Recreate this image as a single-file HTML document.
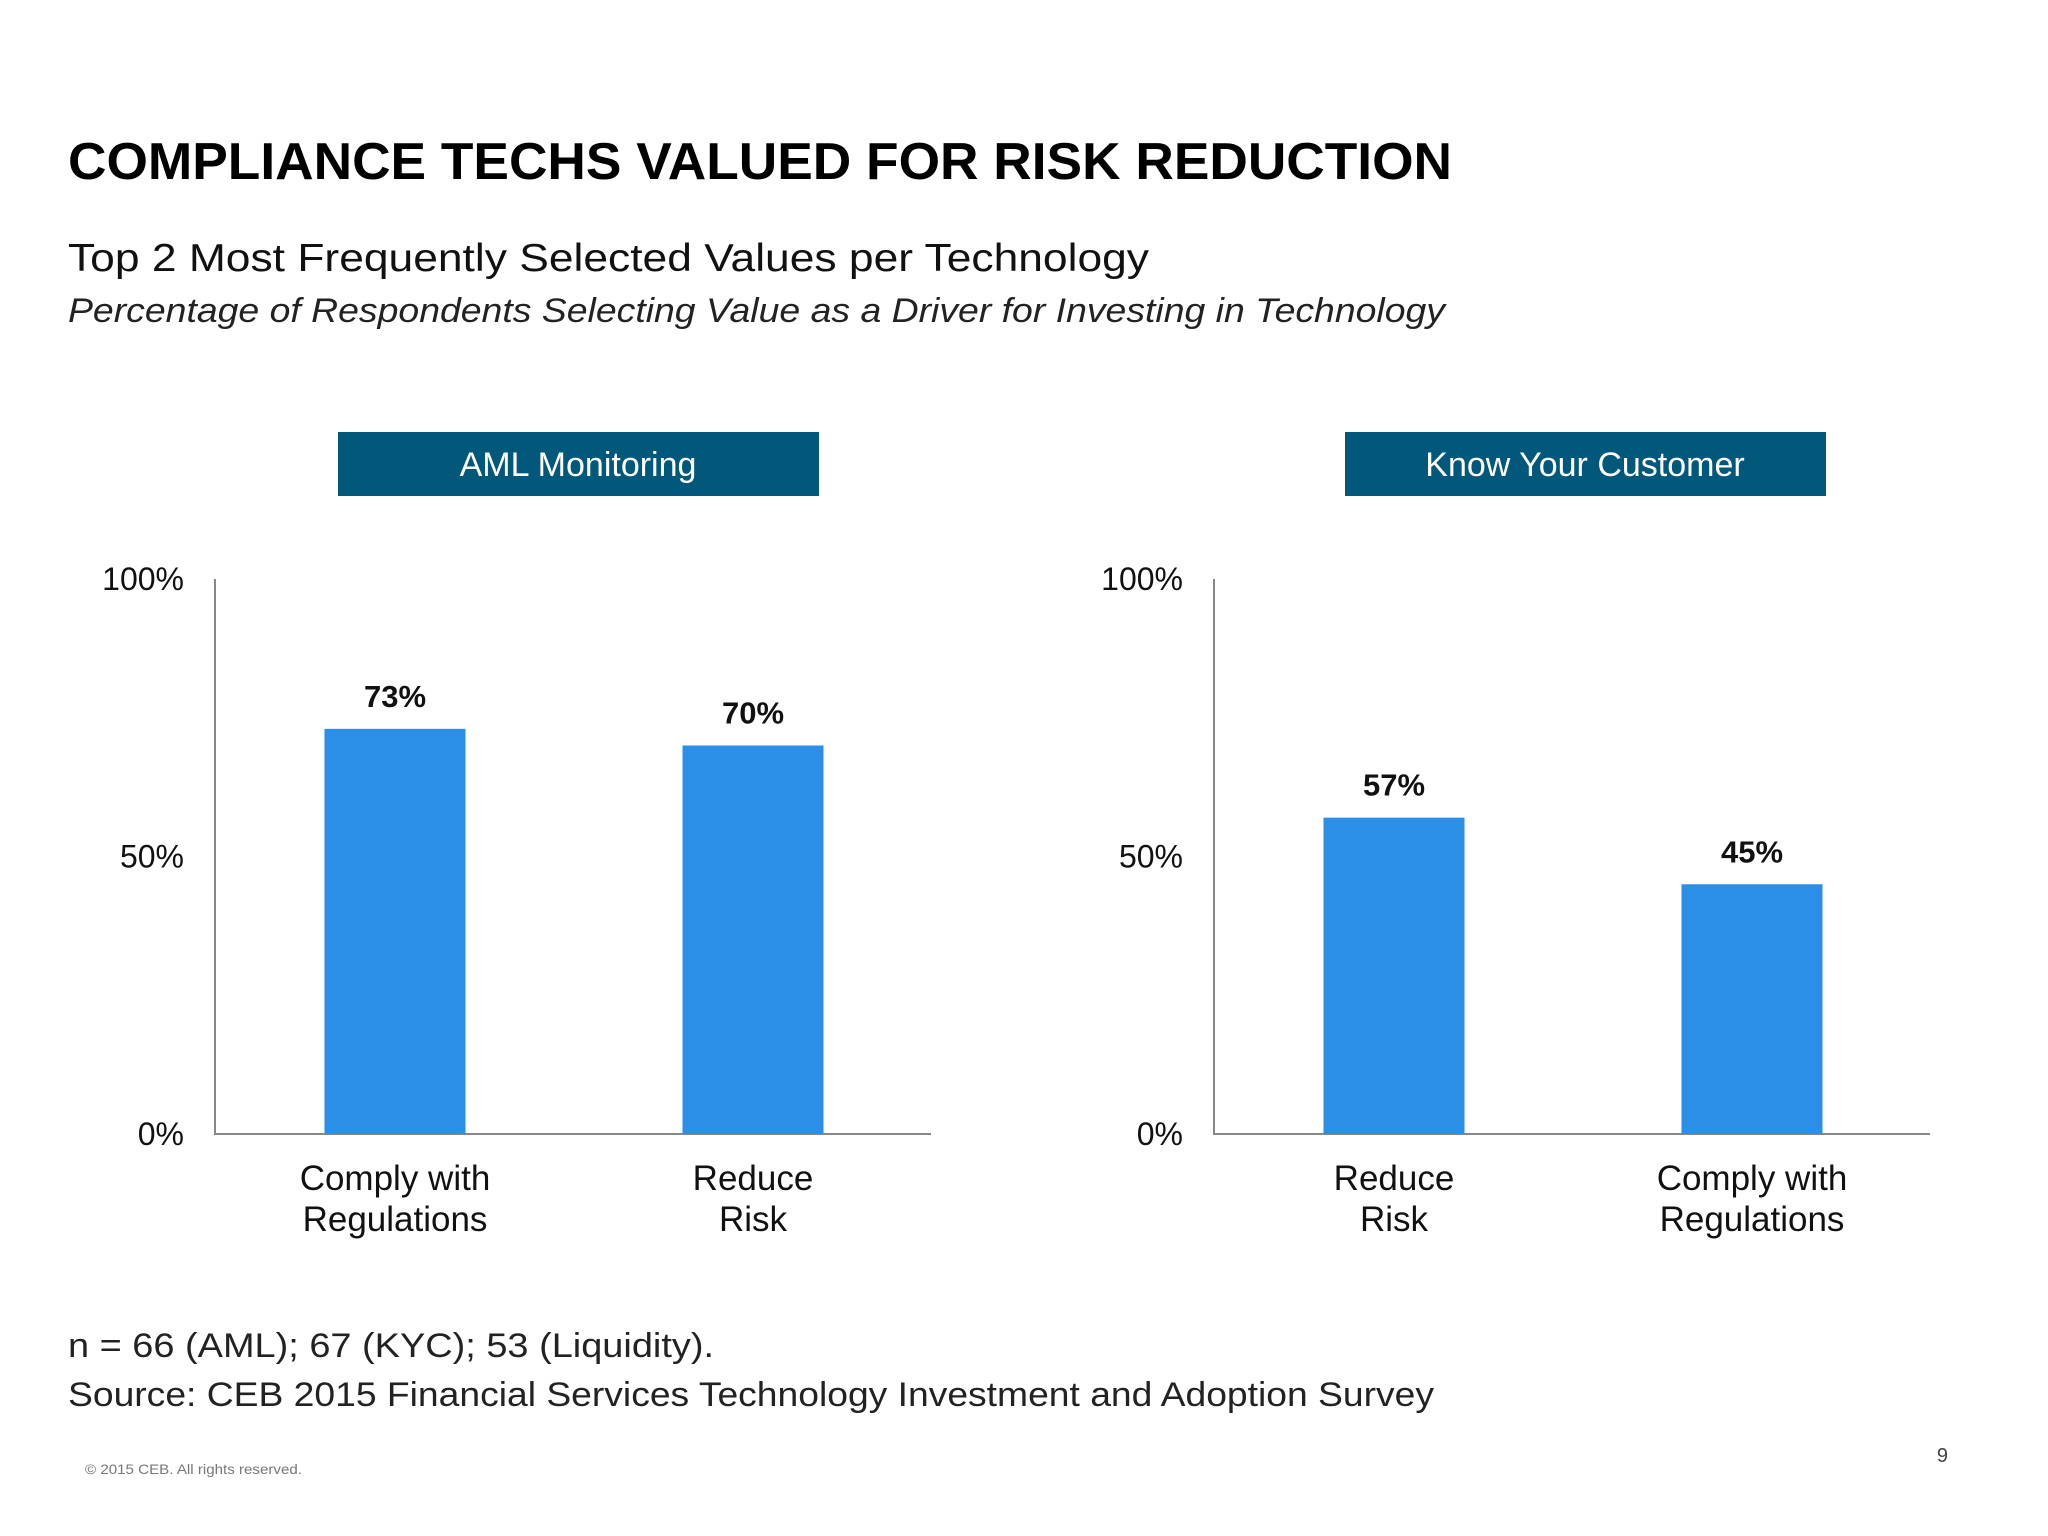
<!DOCTYPE html>
<html><head><meta charset="utf-8"><style>
html,body{margin:0;padding:0;background:#fff}
svg{display:block;font-family:"Liberation Sans",sans-serif}
</style></head><body>
<svg id="chart" width="2048" height="1536" viewBox="0 0 2048 1536">
<rect width="2048" height="1536" fill="#fff"/>
<text x="68" y="179" font-size="52" font-weight="bold" fill="#000" textLength="1384" lengthAdjust="spacingAndGlyphs">COMPLIANCE TECHS VALUED FOR RISK REDUCTION</text>
<text x="68" y="271" font-size="39" fill="#111" textLength="1081" lengthAdjust="spacingAndGlyphs">Top 2 Most Frequently Selected Values per Technology</text>
<text x="68" y="322" font-size="34" font-style="italic" fill="#222" textLength="1377" lengthAdjust="spacingAndGlyphs">Percentage of Respondents Selecting Value as a Driver for Investing in Technology</text>
<g id="panels"></g>
<text x="68" y="1357" font-size="34" fill="#222" textLength="646" lengthAdjust="spacingAndGlyphs">n = 66 (AML); 67 (KYC); 53 (Liquidity).</text>
<text x="68" y="1406" font-size="34" fill="#222" textLength="1366" lengthAdjust="spacingAndGlyphs">Source: CEB 2015 Financial Services Technology Investment and Adoption Survey</text>
<text x="85" y="1474" font-size="14" fill="#777" textLength="217" lengthAdjust="spacingAndGlyphs">© 2015 CEB. All rights reserved.</text>
<text x="1948" y="1462" font-size="20" fill="#444" text-anchor="end">9</text>
</svg>
<script>
const panelTitles = ["AML Monitoring", "Know Your Customer"];
const amlCategories = [["Comply with","Regulations"],["Reduce","Risk"]];
const amlValues = [73, 70];
const kycCategories = [["Reduce","Risk"],["Comply with","Regulations"]];
const kycValues = [57, 45];
const yTicks = [0, 50, 100];
const yTickLabels = ["0%", "50%", "100%"];

const NS = "http://www.w3.org/2000/svg";
const g = document.getElementById("panels");
function mk(tag, attrs, parent){const e=document.createElementNS(NS,tag);for(const k in attrs)e.setAttribute(k,attrs[k]);(parent||g).appendChild(e);return e;}
const y0 = 1134, y100 = 579;
function yScale(v){return y0 - (y0 - y100) * v / 100;}

function panel(ox, hx, title, cats, vals, key){
  const grp = mk("g", {});
  
  
  const hb = mk("rect", {x: hx, y: 432, width: 481, height: 64, fill: "#02587a"}, grp);
  
  
  const ht = mk("text", {x: hx + 240, y: 476, "font-size": 34, fill: "#fff", "text-anchor": "middle"}, grp);
  ht.textContent = title;
  
  
  const ax = mk("path", {d: `M${ox} ${y100}V${y0}H${ox+716}`, stroke: "#888", "stroke-width": 2, fill: "none"}, grp);
  
  
  yTicks.forEach((t, i) => {
    const tl = mk("text", {x: ox - 31, y: yScale(t) + 11, "font-size": 32, fill: "#111", "text-anchor": "end"}, grp);
    tl.textContent = yTickLabels[i];
    
    
  });
  const slot = 716 / cats.length;
  vals.forEach((v, i) => {
    const cx = ox + slot * (i + 0.5) + 1;
    const b = mk("rect", {x: cx - 70.5, y: yScale(v), width: 141, height: y0 - yScale(v), fill: "#2b8fe8"}, grp);
    
    
    const vl = mk("text", {x: cx, y: yScale(v) - 22, "font-size": 31, "font-weight": "bold", fill: "#111", "text-anchor": "middle"}, grp);
    vl.textContent = v + "%";
    
    
    cats[i].forEach((line, j) => {
      const cl = mk("text", {x: cx, y: 1190 + j * 41, "font-size": 35, fill: "#111", "text-anchor": "middle"}, grp);
      cl.textContent = line;
      
      
    });
  });
}
panel(215, 338, panelTitles[0], amlCategories, amlValues, "aml");
panel(1214, 1345, panelTitles[1], kycCategories, kycValues, "kyc");
</script>
</body></html>
